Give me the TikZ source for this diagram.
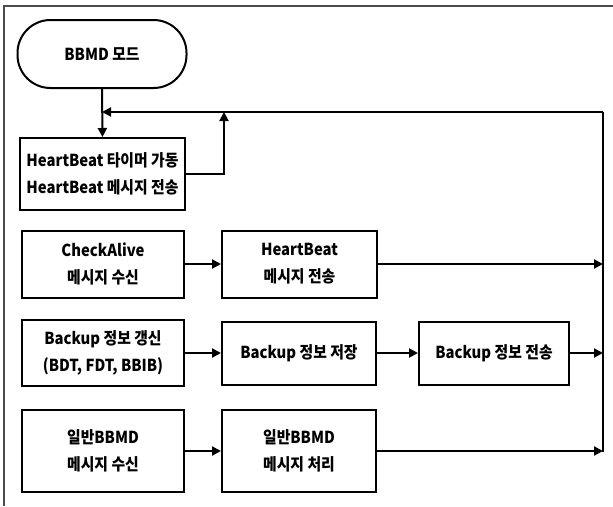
\documentclass[tikz,border=0pt]{standalone}
\usepackage{fontspec}
\setmainfont{Noto Sans CJK KR}[FakeStretch=0.9]
\usetikzlibrary{positioning, arrows.meta}
\tikzset{
  startstop/.style={rectangle, rounded corners=33pt, minimum width=169pt, minimum height=68pt, text centered, draw=black, line width=2pt},
  process/.style={rectangle, minimum height=66pt, align=center, draw=black, line width=2pt, inner sep=1pt},
  arrow/.style={line width=2pt, -{Triangle[length=9pt,width=9pt]}},
  bus/.style={line width=2pt},
  frame/.style={line width=1.1pt, black!70}
}

\begin{document}
\begin{tikzpicture}[x=1pt, y=-1pt, font=\fontsize{16.5pt}{27pt}\selectfont\bfseries]
  \useasboundingbox (0,0) rectangle (613,506);

  % Rahmen (nur oben und links)
  \draw[frame] (613,6) -- (4,6) -- (4,506);

  % Start
  \node[startstop] (mode) at (102,54) {BBMD 모드};

  % Erste Box
  \node[process, minimum width=165pt, minimum height=72pt, align=left] (hb) at (102.5,174)
    {HeartBeat 타이머 가동\\HeartBeat 메시지 전송};

  % Zeile 2
  \node[process, minimum width=162pt, minimum height=67pt] (ca) at (103,264) {CheckAlive\\메시지 수신};
  \node[process, minimum width=155pt, minimum height=67pt] (hbs) at (299.5,264) {HeartBeat\\메시지 전송};

  % Zeile 3
  \node[process, minimum width=162pt] (bu) at (103,353) {Backup 정보 갱신\\(BDT, FDT, BBIB)};
  \node[process, minimum width=154pt, minimum height=63pt] (bs) at (299,353) {Backup 정보 저장};
  \node[process, minimum width=150pt, minimum height=63pt] (bt) at (494,353) {Backup 정보 전송};

  % Zeile 4
  \node[process, minimum width=162pt, minimum height=82pt] (gr) at (103,451) {일반BBMD\\메시지 수신};
  \node[process, minimum width=154pt, minimum height=82pt] (gp) at (299,451) {일반BBMD\\메시지 처리};

  % Rueckfuehrung
  \coordinate (bustop) at (603,112);
  \coordinate (busbot) at (603,452);
  \coordinate (hbup) at (224,112);
  \draw[bus] (bustop) -- (busbot);
  \draw[arrow] (bustop) -- (mode.south |- bustop);
  \draw[arrow] (mode.south) -- (hb.north);
  \draw[arrow] (hb.east) -| (hbup);

  % Verbindungen
  \draw[arrow] (ca) -- (hbs);
  \draw[arrow] (hbs.east) -- (hbs.east -| bustop);
  \draw[arrow] (bu) -- (bs);
  \draw[arrow] (bs) -- (bt);
  \draw[arrow] (bt.east) -- (bt.east -| bustop);
  \draw[arrow] (gr) -- (gp);
  \draw[arrow] (gp.east) -- (gp.east -| bustop);

\end{tikzpicture}
\end{document}
